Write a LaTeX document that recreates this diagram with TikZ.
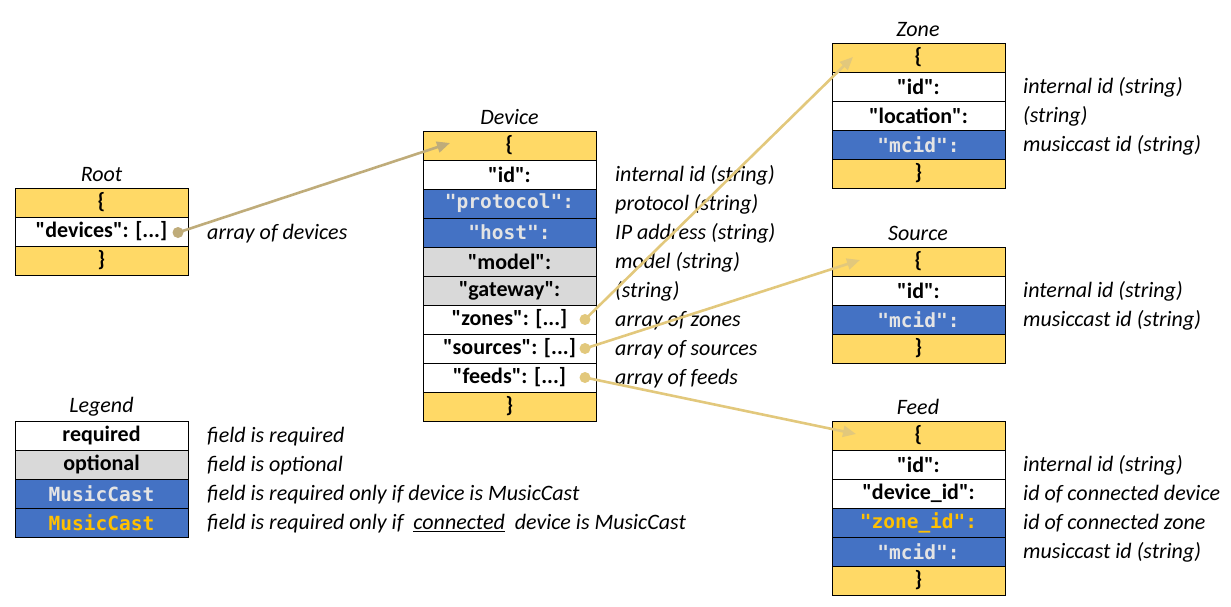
\documentclass[tikz,border=0pt]{standalone}
\usepackage{fontspec}
\setmainfont{Carlito}[Ligatures=TeXOff]
\newfontfamily\monof{DejaVu Sans Mono}[Ligatures=TeXOff]
\usetikzlibrary{arrows.meta}
\definecolor{yellowf}{HTML}{FFD966}
\definecolor{bluef}{HTML}{4472C4}
\definecolor{grayf}{HTML}{D9D9D9}
\definecolor{monotext}{HTML}{E4E4E4}
\definecolor{orangetext}{HTML}{FFC000}
\definecolor{arrowdark}{RGB}{191,172,122}
\definecolor{arrowlight}{RGB}{226,200,124}
\newcommand\fsz{\fontsize{22}{26}\selectfont}
\newcommand\msz{\fontsize{19.5}{24}\selectfont}
\newcommand\qq[1]{"#1"}
\tikzset{
  cell/.style={draw=black, line width=0.9pt, minimum width=173pt, minimum height=29pt, inner sep=0pt, outer sep=0pt, anchor=north west, font=\fsz\bfseries},
  yel/.style={cell, fill=yellowf},
  wht/.style={cell, fill=white},
  gry/.style={cell, fill=grayf},
  blu/.style={cell, fill=bluef, font=\msz\monof\bfseries, text=monotext},
  bluo/.style={blu, text=orangetext},
  desc/.style={anchor=west, font=\fsz\itshape, inner sep=0pt, yshift=-1pt},
  ttl/.style={font=\fsz\itshape, inner sep=0pt},
  linkdark/.style={draw=arrowdark, line width=2.6pt, -{Triangle[length=13pt,width=11pt]}},
  linklight/.style={draw=arrowlight, line width=2.6pt, -{Triangle[length=13pt,width=11pt]}},
}
\begin{document}
\begin{tikzpicture}[x=1pt,y=-1pt]
\useasboundingbox (0,0) rectangle (1231,607);
% Root
\node[ttl] (roott) at (101.5,175) {Root};
\node[yel] (r0) at (15,188) {\{};
\node[wht] (r1) at (15,217) {\qq{devices}: [...]\hspace{14pt}};
\node[yel] (r2) at (15,246) {\}};
\node[desc] (rd1) at (207,232.5) {array of devices};
% Device
\node[ttl] (devt) at (509.5,117) {Device};
\node[yel] (d0) at (423,131) {\{};
\node[wht] (d1) at (423,160) {\qq{id}:};
\node[blu] (d2) at (423,189) {\qq{protocol}:};
\node[blu] (d3) at (423,218) {\qq{host}:};
\node[gry] (d4) at (423,247) {\qq{model}:};
\node[gry] (d5) at (423,276) {\qq{gateway}:};
\node[wht] (d6) at (423,305) {\qq{zones}: [...]\hspace{14pt}};
\node[wht] (d7) at (423,334) {\qq{sources}: [...]\hspace{14pt}};
\node[wht] (d8) at (423,363) {\qq{feeds}: [...]\hspace{14pt}};
\node[yel] (d9) at (423,392) {\}};
\node[desc] (dd1) at (615,174.5) {internal id (string)};
\node[desc] (dd2) at (615,203.5) {protocol (string)};
\node[desc] (dd3) at (615,232.5) {IP address (string)};
\node[desc] (dd4) at (615,261.5) {model (string)};
\node[desc] (dd5) at (615,290.5) {(string)};
\node[desc] (dd6) at (615,319.5) {array of zones};
\node[desc] (dd7) at (615,348.5) {array of sources};
\node[desc] (dd8) at (615,377.5) {array of feeds};
% Zone
\node[ttl] (zt) at (918,30) {Zone};
\node[yel] (z0) at (832,43) {\{};
\node[wht] (z1) at (832,72) {\qq{id}:};
\node[wht] (z2) at (832,101) {\qq{location}:};
\node[blu] (z3) at (832,130) {\qq{mcid}:};
\node[yel] (z4) at (832,159) {\}};
\node[desc] (zd1) at (1023,86.5) {internal id (string)};
\node[desc] (zd2) at (1023,115.5) {(string)};
\node[desc] (zd3) at (1023,144.5) {musiccast id (string)};
% Source
\node[ttl] (st) at (918,233) {Source};
\node[yel] (s0) at (832,247) {\{};
\node[wht] (s1) at (832,276) {\qq{id}:};
\node[blu] (s2) at (832,305) {\qq{mcid}:};
\node[yel] (s3) at (832,334) {\}};
\node[desc] (sd1) at (1023,290.5) {internal id (string)};
\node[desc] (sd2) at (1023,319.5) {musiccast id (string)};
% Feed
\node[ttl] (ft) at (918,407) {Feed};
\node[yel] (f0) at (832,421) {\{};
\node[wht] (f1) at (832,450) {\qq{id}:};
\node[wht] (f2) at (832,479) {\qq{device\_id}:};
\node[bluo] (f3) at (832,508) {\qq{zone\_id}:};
\node[blu] (f4) at (832,537) {\qq{mcid}:};
\node[yel] (f5) at (832,566) {\}};
\node[desc] (fd1) at (1023,464.5) {internal id (string)};
\node[desc] (fd2) at (1023,493.5) {id of connected device};
\node[desc] (fd3) at (1023,522.5) {id of connected zone};
\node[desc] (fd4) at (1023,551.5) {musiccast id (string)};
% Legend
\node[ttl] (lt) at (101.5,407) {Legend};
\node[wht] (l0) at (15,421) {required};
\node[gry] (l1) at (15,450) {optional};
\node[blu] (l2) at (15,479) {MusicCast};
\node[bluo] (l3) at (15,508) {MusicCast};
\node[desc] (ld0) at (207,435.5) {field is required};
\node[desc] (ld1) at (207,464.5) {field is optional};
\node[desc] (ld2) at (207,493.5) {field is required only if device is MusicCast};
\node[desc] (ld3) at (207,522.5) {field is required only if \ \underline{connected}\ \ device is MusicCast};
% connectors
\coordinate (rdot) at (178,232.5);
\coordinate (zdot) at (585,319.5);
\coordinate (sdot) at (585,348.5);
\coordinate (fdot) at (585,377.5);
\coordinate (dtip) at (450,143);
\coordinate (ztip) at (853,57);
\coordinate (stip) at (860,260);
\coordinate (ftip) at (856,434);
\draw[linkdark] (rdot) -- (dtip);
\fill[arrowdark] (rdot) circle (5.5pt);
\draw[linklight] (zdot) -- (ztip);
\fill[arrowlight] (zdot) circle (5.5pt);
\draw[linklight] (sdot) -- (stip);
\fill[arrowlight] (sdot) circle (5.5pt);
\draw[linklight] (fdot) -- (ftip);
\fill[arrowlight] (fdot) circle (5.5pt);
\end{tikzpicture}
\end{document}
